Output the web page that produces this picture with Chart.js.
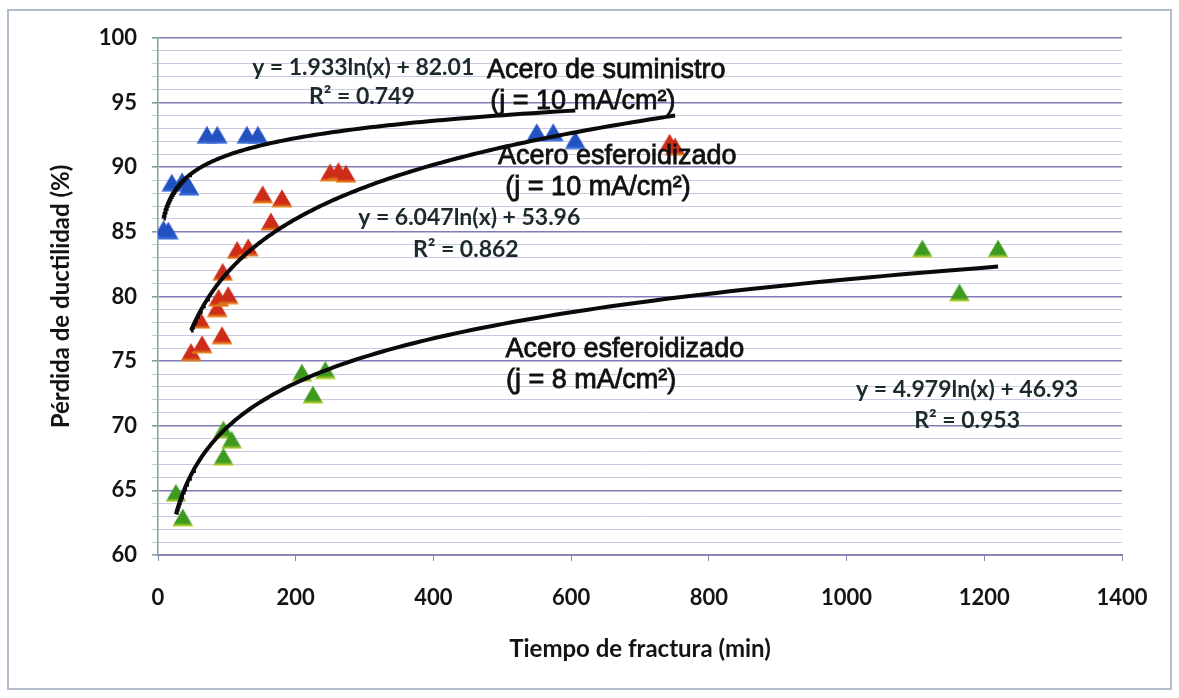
<!DOCTYPE html>
<html>
<head>
<meta charset="utf-8">
<script src="https://cdn.jsdelivr.net/npm/chart.js@4.4.1/dist/chart.umd.min.js"></script>
<style>
  html, body { margin: 0; padding: 0; background: #ffffff; }
  canvas { display: block; }
</style>
</head>
<body>
<canvas id="chart" width="1179" height="698"></canvas>
<script>
// Acero de suministro (j = 10 mA/cm²)
const suministroX = [8, 15, 20, 35, 45, 71, 86, 129, 145, 550, 574, 606];
const suministroY = [85.2, 85.1, 88.8, 88.9, 88.5, 92.5, 92.5, 92.5, 92.5, 92.7, 92.7, 92.1];

// Acero esferoidizado (j = 10 mA/cm²)
const esf10X = [48, 64, 61, 93, 86, 88, 102, 94, 115, 131, 152, 164, 180, 250, 262, 273, 743, 751];
const esf10Y = [75.7, 76.3, 78.2, 77.0, 79.1, 79.9, 80.1, 81.9, 83.6, 83.8, 87.9, 85.8, 87.6, 89.6, 89.7, 89.5, 91.9, 91.6];

// Acero esferoidizado (j = 8 mA/cm²)
const esf8X = [26, 36, 95, 107, 95, 209, 225, 243, 1110, 1164, 1220];
const esf8Y = [64.8, 62.9, 69.7, 68.9, 67.6, 74.1, 72.4, 74.3, 83.7, 80.3, 83.7];

// Logarithmic fits y = a·ln(x) + b, one per series
const trendSlope = [1.933, 6.047, 4.979];
const trendIntercept = [82.01, 53.96, 46.93];
const trendR2 = ['0.749', '0.862', '0.953'];

const xTicks = [0, 200, 400, 600, 800, 1000, 1200, 1400];
const yTicks = [60, 65, 70, 75, 80, 85, 90, 95, 100];

const seriesNames = ['Acero de suministro', 'Acero esferoidizado', 'Acero esferoidizado'];
const seriesCurrent = ['(j = 10 mA/cm²)', '(j = 10 mA/cm²)', '(j = 8 mA/cm²)'];

const EQ_FONT = 'bold 23px Lato, "DejaVu Sans", sans-serif';
const NAME_FONT = '27px "Liberation Sans", Arial, sans-serif';

// Triangle marker drawn into a small canvas so it sits centred on its point
function triangleMarker(fill, edge) {
  const w = 22, h = 19;
  const c = document.createElement('canvas');
  c.width = w; c.height = h;
  const g = c.getContext('2d');
  g.beginPath();
  g.moveTo(w / 2, 0.5);
  g.lineTo(w - 0.5, h - 0.5);
  g.lineTo(0.5, h - 0.5);
  g.closePath();
  const grad = g.createLinearGradient(0, 0, 0, h);
  grad.addColorStop(0, fill);
  grad.addColorStop(0.78, fill);
  grad.addColorStop(1, edge);
  g.fillStyle = grad;
  g.fill();
  return c;
}

function points(xs, ys) {
  return xs.map((x, i) => ({ x: x, y: ys[i] }));
}

// Samples of a fitted curve over the span of its own series
function fitCurve(k, xs) {
  const lo = Math.min(...xs), hi = Math.max(...xs);
  const out = [];
  const n = 160;
  for (let i = 0; i <= n; i++) {
    const x = Math.exp(Math.log(lo) + (Math.log(hi) - Math.log(lo)) * i / n);
    out.push({ x: x, y: trendSlope[k] * Math.log(x) + trendIntercept[k] });
  }
  return out;
}

const seriesX = [suministroX, esf10X, esf8X];
const seriesY = [suministroY, esf10Y, esf8Y];
const markers = [
  triangleMarker('#2251c2', '#4f7fe0'),
  triangleMarker('#cc2c18', '#f0a020'),
  triangleMarker('#3e9a1e', '#e4e838')
];

const datasets = [];
for (let k = 0; k < 3; k++) {
  datasets.push({
    type: 'scatter',
    label: seriesNames[k] + ' ' + seriesCurrent[k],
    data: points(seriesX[k], seriesY[k]),
    pointStyle: markers[k],
    pointRadius: 10,
    order: 2
  });
}
for (let k = 0; k < 3; k++) {
  datasets.push({
    type: 'line',
    label: 'Logarítmica ' + seriesNames[k],
    data: fitCurve(k, seriesX[k]),
    borderColor: '#0a0a0a',
    borderWidth: 4,
    pointRadius: 0,
    tension: 0,
    fill: false,
    order: 1
  });
}

// Text blocks placed in data coordinates
const notes = [
  { x: 298, y: 97.68, text: 'y = ' + trendSlope[0] + 'ln(x) + ' + trendIntercept[0].toFixed(2), font: EQ_FONT, color: '#1c2a2c' },
  { x: 296, y: 95.44, text: 'R² = ' + trendR2[0], font: EQ_FONT, color: '#1c2a2c' },
  { x: 651, y: 97.5, text: seriesNames[0], font: NAME_FONT, color: '#111111' },
  { x: 617, y: 95.1, text: seriesCurrent[0], font: NAME_FONT, color: '#111111' },
  { x: 667, y: 90.8, text: seriesNames[1], font: NAME_FONT, color: '#111111' },
  { x: 639, y: 88.4, text: seriesCurrent[1], font: NAME_FONT, color: '#111111' },
  { x: 452, y: 86.08, text: 'y = ' + trendSlope[1] + 'ln(x) + ' + trendIntercept[1].toFixed(2), font: EQ_FONT, color: '#1c2a2c' },
  { x: 447, y: 83.6, text: 'R² = ' + trendR2[1], font: EQ_FONT, color: '#1c2a2c' },
  { x: 678, y: 75.87, text: seriesNames[2], font: NAME_FONT, color: '#111111' },
  { x: 629, y: 73.47, text: seriesCurrent[2], font: NAME_FONT, color: '#111111' },
  { x: 1175, y: 72.78, text: 'y = ' + trendSlope[2] + 'ln(x) + ' + trendIntercept[2].toFixed(2), font: EQ_FONT, color: '#1c2a2c' },
  { x: 1175, y: 70.38, text: 'R² = ' + trendR2[2], font: EQ_FONT, color: '#1c2a2c' }
];

const notesPlugin = {
  id: 'notes',
  afterDatasetsDraw(chart) {
    const { ctx, scales } = chart;
    ctx.save();
    ctx.textAlign = 'center';
    ctx.textBaseline = 'middle';
    notes.forEach(n => {
      ctx.font = n.font;
      ctx.fillStyle = n.color;
      const px = scales.x.getPixelForValue(n.x);
      const py = scales.y.getPixelForValue(n.y);
      ctx.fillText(n.text, px, py);
      if (n.font === NAME_FONT) {
        ctx.lineWidth = 0.8;
        ctx.strokeStyle = n.color;
        ctx.strokeText(n.text, px, py);
      }
    });
    ctx.restore();
  }
};

const framePlugin = {
  id: 'frame',
  beforeDraw(chart) {
    const { ctx, width, height } = chart;
    ctx.save();
    ctx.fillStyle = '#ffffff';
    ctx.fillRect(0, 0, width, height);
    ctx.strokeStyle = '#b3bccd';
    ctx.lineWidth = 2;
    ctx.strokeRect(8, 10, width - 16, height - 19);
    ctx.restore();
  }
};

const TICK_FONT = { family: 'Lato, "DejaVu Sans", sans-serif', size: 22, weight: 'bold' };
const TITLE_FONT = { family: 'Lato, "DejaVu Sans", sans-serif', size: 24, weight: 'bold' };

new Chart(document.getElementById('chart'), {
  data: { datasets: datasets },
  options: {
    responsive: false,
    animation: false,
    events: [],
    layout: { padding: { left: 40, top: 38, right: 57, bottom: 23 } },
    plugins: { legend: { display: false }, tooltip: { enabled: false } },
    scales: {
      x: {
        type: 'linear',
        min: xTicks[0],
        max: xTicks[xTicks.length - 1],
        afterBuildTicks: s => { s.ticks = xTicks.map(v => ({ value: v })); },
        afterFit: s => { s.height = 120; },
        grid: { drawOnChartArea: false, drawTicks: true, tickLength: 6, tickColor: '#8a86b4' },
        border: { color: '#8a86b4', width: 2 },
        ticks: { font: TICK_FONT, color: '#141414', padding: 24, maxRotation: 0, callback: v => String(v) },
        title: {
          display: true,
          text: 'Tiempo de fractura (min)',
          font: TITLE_FONT,
          color: '#141414',
          padding: { top: 0, bottom: 11 }
        }
      },
      y: {
        type: 'linear',
        min: yTicks[0],
        max: yTicks[yTicks.length - 1],
        afterFit: s => { s.width = 118; },
        ticks: {
          stepSize: 1,
          autoSkip: false,
          font: TICK_FONT,
          color: '#141414',
          padding: 15,
          callback: v => (yTicks.includes(v) ? String(v) : '')
        },
        grid: {
          drawTicks: true,
          tickLength: 6,
          color: c => (yTicks.includes(c.tick.value) ? '#7f7db4' : '#c9c8de'),
          lineWidth: c => (yTicks.includes(c.tick.value) ? 1.6 : 1),
          tickColor: c => (yTicks.includes(c.tick.value) ? '#7fa29e' : '#b9cfcc')
        },
        border: { color: '#7fa29e', width: 1.5 },
        title: {
          display: true,
          text: 'Pérdida de ductilidad (%)',
          font: TITLE_FONT,
          color: '#141414',
          padding: { top: 7, bottom: 0 }
        }
      }
    }
  },
  plugins: [framePlugin, notesPlugin]
});
</script>
</body>
</html>
